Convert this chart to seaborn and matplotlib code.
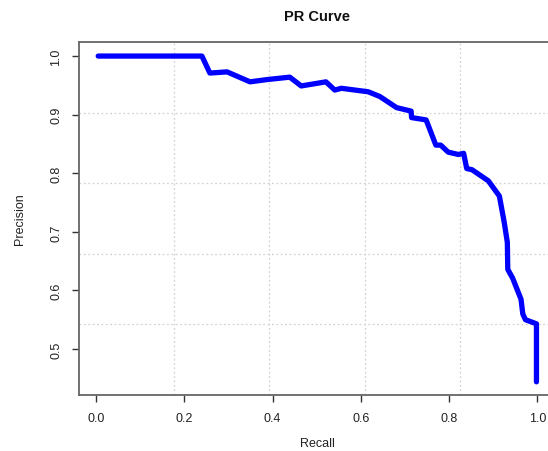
import numpy as np
import pandas as pd
import matplotlib
matplotlib.use('Agg')
import matplotlib.pyplot as plt
import seaborn as sns

# ---- data ----
recall = [0.005, 0.240, 0.258, 0.297, 0.349, 0.389, 0.439, 0.465, 0.521,
          0.541, 0.556, 0.617, 0.643, 0.681, 0.714, 0.715, 0.748, 0.770,
          0.781, 0.798, 0.821, 0.833, 0.840, 0.852, 0.889, 0.914, 0.925,
          0.932, 0.933, 0.944, 0.954, 0.963, 0.967, 0.973, 0.998, 0.998]
precision = [1.000, 1.000, 0.971, 0.973, 0.956, 0.960, 0.964, 0.949, 0.956,
             0.942, 0.945, 0.939, 0.931, 0.912, 0.906, 0.895, 0.891, 0.848,
             0.848, 0.836, 0.832, 0.834, 0.808, 0.806, 0.787, 0.761, 0.716,
             0.682, 0.636, 0.621, 0.602, 0.585, 0.560, 0.550, 0.543, 0.444]

x_ticks = [0.0, 0.2, 0.4, 0.6, 0.8, 1.0]
y_ticks = [0.5, 0.6, 0.7, 0.8, 0.9, 1.0]

df = pd.DataFrame({'Recall': recall, 'Precision': precision})

sns.set_style('white')
plt.rcParams['font.family'] = ['Liberation Sans', 'DejaVu Sans']

W, H = 548, 452
fig = plt.figure(figsize=(W / 100, H / 100), dpi=100)
# R-style plot region; right edge runs past the image like the reference
ax = fig.add_axes([79 / W, (H - 396) / H, (555 - 79) / W, (396 - 43) / H])

xlim = (-0.0385, 1.04)
ylim = (0.4215, 1.024)
ax.set_xlim(xlim)
ax.set_ylim(ylim)

# R grid(): 5 equal parts of the plot region, light dotted
for gx in np.linspace(xlim[0], xlim[1], 6)[1:-1]:
    ax.axvline(gx, color='#d3d3d3', lw=0.9, ls=(0, (1.5, 2)), zorder=0)
for gy in np.linspace(ylim[0], ylim[1], 6)[1:-1]:
    ax.axhline(gy, color='#d3d3d3', lw=0.9, ls=(0, (1.5, 2)), zorder=0)

sns.lineplot(data=df, x='Recall', y='Precision', sort=False, estimator=None,
             color='#0000ff', lw=3.8, ax=ax, zorder=3)

ax.set_xticks(x_ticks)
ax.set_yticks(y_ticks)
ax.set_xticklabels([f'{v:.1f}' for v in x_ticks])
ax.set_yticklabels([f'{v:.1f}' for v in y_ticks], rotation=90, va='center')
ax.tick_params(axis='both', direction='out', length=5, width=1.0,
               color='#333333', labelsize=9, labelcolor='#222222', pad=7)
ax.tick_params(axis='x', bottom=True)
ax.tick_params(axis='y', left=True)

for s in ax.spines.values():
    s.set_color('#666666')
    s.set_linewidth(1.3)

ax.set_title('PR Curve', fontsize=10.5, fontweight='bold', pad=16,
             color='#111111')
ax.set_xlabel('Recall', fontsize=9, color='#222222')
ax.set_ylabel('Precision', fontsize=9, color='#222222')
ax.xaxis.set_label_coords(0.5, -(444 - 396) / 353)
ax.yaxis.set_label_coords(-(79 - 20) / 476, 0.5)
ax.xaxis.label.set_va('center')
ax.yaxis.label.set_va('center')

fig.savefig('out.png', dpi=100)
